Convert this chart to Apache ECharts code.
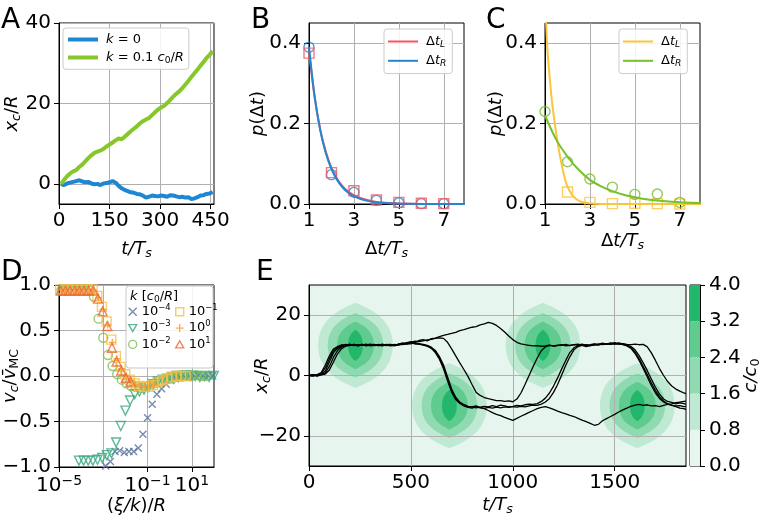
<!DOCTYPE html>
<html><head><meta charset="utf-8">
<script src="https://cdn.jsdelivr.net/npm/echarts@6/dist/echarts.min.js"></script>
<style>html,body{margin:0;padding:0;background:#fff}#c{width:762px;height:521px}</style>
</head><body><div id="c"></div>
<script>
const FONT = 'DejaVu Sans';

// ---------- Panel A ----------
const A_t = [6,15,24,33,42,51,60,69,78,87,96,105,114,123,132,141,150,159,168,177,186,195,204,213,222,231,240,249,258,267,276,285,294,303,312,321,330,339,348,357,366,375,384,393,402,411,420,429,438,447,456];
const A_k0 = [0.0,-0.3,0.1,0.3,0.5,0.7,0.9,0.6,0.4,0.5,0.1,-0.1,0.0,-0.3,0.1,0.2,0.4,0.7,0.3,-0.5,-1.1,-1.5,-1.8,-2.1,-2.2,-2.5,-2.6,-2.9,-3.4,-3.2,-2.9,-3.0,-3.1,-2.9,-3.0,-3.2,-2.8,-2.9,-3.1,-3.3,-3.2,-3.4,-3.3,-3.8,-3.6,-3.3,-2.9,-2.8,-2.5,-2.4,-2.0];
const A_k01 = [0.0,1.0,1.9,2.6,3.1,3.4,4.2,4.8,5.6,6.4,7.1,7.7,8.0,8.3,8.7,9.3,9.8,10.3,10.8,11.3,11.1,11.7,12.4,13.1,13.7,14.3,15.0,15.6,16.0,16.4,17.1,17.8,18.5,19.0,19.4,20.1,20.9,21.7,22.4,23.0,23.8,24.7,25.6,26.6,27.5,28.4,29.4,30.3,31.3,32.1,33.0];
const A_xTicks = [0,150,300,450];
const A_yTicks = [0,20,40];

// ---------- Panel B ----------
const B_ptsX = [1,2,3,4,5,6,7,8];
const B_L_pts = [0.375,0.078,0.033,0.010,0.004,0.002,0.001,0.001];
const B_R_pts = [0.390,0.073,0.029,0.009,0.003,0.001,0.001,0.0005];
const B_curveX = [1,1.25,1.5,1.75,2,2.25,2.5,2.75,3,3.5,4,4.5,5,6,7,8];
const B_L_curve = [0.38,0.265,0.185,0.13,0.09,0.063,0.044,0.031,0.022,0.011,0.005,0.0027,0.0013,0.0003,0.0001,0];
const B_R_curve = [0.39,0.268,0.184,0.126,0.087,0.06,0.041,0.028,0.019,0.009,0.0042,0.002,0.001,0.0002,0,0];
const BC_xTicks = [1,3,5,7];
const BC_yTicks = [0,0.2,0.4];

// ---------- Panel C ----------
const C_ptsX = [1,2,3,4,5,6,7,8];
const C_L_pts = [0.6,0.03,0.004,0.001,0.002,0.001,0.0,0.001];
const C_R_pts = [0.23,0.105,0.062,0.042,0.024,0.025,0.004,0.002];
const C_L_curveX = [1,1.05,1.1,1.2,1.3,1.4,1.5,1.6,1.7,1.8,1.9,2,2.2,2.4,2.6,2.8,3,3.5,4,5,6,7,8];
const C_L_curve = [0.5,0.45,0.39,0.32,0.26,0.215,0.175,0.14,0.11,0.083,0.06,0.043,0.023,0.012,0.006,0.003,0.0015,0.0003,0,0,0,0,0];
const C_R_curveX = [1,1.5,2,2.5,3,3.5,4,4.5,5,5.5,6,6.5,7,7.5,8];
const C_R_curve = [0.22,0.16,0.118,0.085,0.06,0.044,0.032,0.023,0.017,0.012,0.0085,0.006,0.0045,0.003,0.0023];

// ---------- Panel D (x given as log10 exponents of (xi/k)/R) ----------
const D_exp_k1e4 = [-3.1,-2.89,-2.68,-2.47,-2.26,-2.05,-1.84,-1.63,-1.42,-1.21,-1.0,-0.79,-0.58,-0.37,-0.16,0.05,0.26,0.47,0.68,0.89,1.1,1.31,1.52,1.73,1.94];
const D_v_k1e4 = [-1.03,-0.99,-0.94,-0.83,-0.82,-0.84,-0.83,-0.83,-0.79,-0.64,-0.46,-0.31,-0.2,-0.14,-0.09,-0.05,-0.03,-0.02,-0.01,0.0,0.0,0.01,0.0,0.0,0.0];
const D_exp_k1e3 = [-4.1,-3.89,-3.68,-3.47,-3.26,-3.05,-2.84,-2.63,-2.42,-2.21,-2.0,-1.79,-1.58,-1.37,-1.16,-0.95,-0.74,-0.53,-0.32,-0.11,0.1,0.31,0.52,0.73,0.94,1.15,1.36,1.57,1.78,1.99];
const D_v_k1e3 = [-0.93,-0.93,-0.93,-0.93,-0.92,-0.9,-0.87,-0.85,-0.73,-0.55,-0.38,-0.27,-0.2,-0.17,-0.15,-0.12,-0.09,-0.06,-0.04,-0.03,-0.01,0,0,0.01,0,0,-0.01,0,-0.01,0];
const D_exp_k1e2 = [-4.89,-4.68,-4.47,-4.26,-4.05,-3.84,-3.63,-3.42,-3.21,-3.0,-2.79,-2.58,-2.37,-2.16,-1.95,-1.74,-1.53,-1.32,-1.11,-0.9,-0.69,-0.48,-0.27,-0.06,0.15,0.36,0.57,0.78,0.99,1.2,1.41,1.62];
const D_v_k1e2 = [0.94,0.94,0.94,0.94,0.94,0.94,0.94,0.87,0.63,0.42,0.23,0.11,0.02,-0.04,-0.08,-0.11,-0.12,-0.13,-0.12,-0.1,-0.08,-0.06,-0.04,-0.03,-0.02,-0.01,0,0,0,0.01,0,0];
const D_exp_k1e1 = [-4.95,-4.74,-4.53,-4.32,-4.11,-3.9,-3.69,-3.48,-3.27,-3.06,-2.85,-2.64,-2.43,-2.22,-2.01,-1.8,-1.59,-1.38,-1.17,-0.96,-0.75,-0.54,-0.33,-0.12,0.09,0.3,0.51,0.72];
const D_v_k1e1 = [0.95,0.95,0.95,0.95,0.95,0.95,0.95,0.95,0.88,0.76,0.6,0.4,0.22,0.1,0.02,-0.04,-0.08,-0.11,-0.12,-0.12,-0.1,-0.07,-0.05,-0.03,-0.01,0,0,0];
const D_exp_k1e0 = [-4.9,-4.69,-4.48,-4.27,-4.06,-3.85,-3.64,-3.43,-3.22,-3.01,-2.8,-2.59,-2.38,-2.17,-1.96,-1.75,-1.54,-1.33,-1.12,-0.91,-0.7];
const D_v_k1e0 = [0.95,0.95,0.95,0.95,0.95,0.95,0.95,0.94,0.86,0.73,0.56,0.37,0.19,0.08,0.0,-0.05,-0.09,-0.11,-0.12,-0.11,-0.09];
const D_exp_k10 = [-4.92,-4.71,-4.5,-4.29,-4.08,-3.87,-3.66,-3.45,-3.24,-3.03,-2.82,-2.61,-2.4,-2.19,-1.98,-1.77];
const D_v_k10 = [0.94,0.94,0.94,0.94,0.94,0.94,0.94,0.94,0.85,0.71,0.55,0.31,0.16,0.06,-0.02,-0.06];
const D_xTicks = [1.000001e-5,1e-3,1e-1,1e1];
const D_yTicks = [-1,-0.5,0,0.5,1];

// ---------- Panel E ----------
const E_t = [0,20,40,60,80,100,120,140,160,180,200,220,240,260,280,300,320,340,360,380,400,420,440,460,480,500,520,540,560,580,600,620,640,660,680,700,720,740,760,780,800,820,840,860,880,900,920,940,960,980,1000,1020,1040,1060,1080,1100,1120,1140,1160,1180,1200,1220,1240,1260,1280,1300,1320,1340,1360,1380,1400,1420,1440,1460,1480,1500,1520,1540,1560,1580,1600,1620,1640,1660,1680,1700,1720,1740,1760,1780,1800,1820,1840,1850];
const E_traj1 = [0,0.2,-0.1,0.6,2.5,5.5,8.2,9.4,9.8,10.3,9.9,10.2,10.0,10.3,9.8,10.1,10.2,9.9,10.0,10.3,10.1,9.8,10.2,10.5,10.9,11.2,11.0,11.6,11.9,11.5,12.2,12.4,12.9,13.3,13.6,14.0,14.3,14.9,15.2,15.6,16.0,16.2,16.8,17.1,17.6,17.3,16.6,15.6,14.4,13.1,11.9,11.0,10.5,10.2,10.0,9.8,9.9,9.7,9.8,10.1,9.7,9.9,10.2,9.8,10.0,10.2,10.4,10.0,9.6,9.9,10.3,10.2,10.6,10.4,10.8,10.5,10.4,10.6,10.3,10.2,10.4,10.2,10.3,9.5,7.5,5.0,2.3,0.0,-2.0,-3.5,-4.5,-5.2,-5.8,-6.0];
const E_traj2 = [0,-0.2,0.3,1.0,3.5,6.5,8.8,9.6,10.2,9.8,10.1,10.3,9.9,10.1,10.2,9.8,10.0,10.3,10.1,9.9,10.2,10.0,10.3,10.5,10.4,10.8,10.6,10.4,10.3,10.0,9.4,8.3,6.3,3.5,-0.5,-4.5,-7.2,-8.8,-9.6,-10.2,-10.4,-10.1,-10.6,-11.0,-11.6,-12.3,-12.9,-13.3,-13.9,-14.4,-14.9,-14.2,-13.5,-12.9,-12.2,-11.6,-11.0,-10.6,-10.3,-10.7,-11.2,-11.8,-12.3,-12.7,-13.2,-13.6,-14.2,-14.8,-15.3,-15.9,-16.5,-16.2,-15.0,-14.3,-13.6,-12.9,-12.1,-11.4,-10.8,-10.2,-9.8,-9.6,-9.9,-9.7,-10.1,-10.0,-10.3,-9.9,-9.6,-9.4,-9.0,-8.8,-8.6,-8.5];
const E_traj3 = [0,0.3,0.1,0.4,1.5,4.5,7.5,9.0,9.9,10.1,10.4,9.9,10.2,10.0,10.1,10.4,9.9,10.1,10.4,10.0,10.1,10.3,10.1,10.4,10.6,10.5,10.9,10.6,10.2,9.8,9.2,7.9,5.8,2.8,-1.2,-5.0,-7.6,-9.0,-9.9,-10.4,-10.3,-10.7,-10.5,-10.2,-10.4,-10.0,-10.3,-9.8,-10.1,-10.4,-10.2,-9.9,-10.1,-9.7,-9.5,-9.6,-9.3,-8.6,-7.5,-5.8,-3.5,-0.8,2.2,5.0,7.6,9.2,9.9,10.2,9.8,10.0,10.3,10.1,10.5,10.3,10.6,10.4,10.8,10.5,10.1,9.3,7.8,5.6,3.0,0.3,-2.5,-5.0,-7.0,-8.5,-9.4,-9.8,-10.3,-10.8,-11.0,-11.3];
const E_traj4 = [0,-0.1,0.2,0.3,0.9,3.0,6.0,8.3,9.5,10.0,10.2,10.1,9.8,10.3,10.0,10.2,10.3,9.9,10.2,10.1,9.8,10.1,10.4,10.2,10.7,10.9,10.5,10.4,10.1,9.7,9.0,7.6,5.4,2.2,-1.8,-5.5,-8.0,-9.3,-10.1,-10.6,-10.8,-10.4,-10.7,-10.9,-10.6,-10.8,-10.5,-10.7,-10.4,-10.6,-10.3,-10.5,-10.2,-10.4,-10.1,-9.8,-9.9,-9.5,-8.8,-7.6,-5.6,-3.0,0.2,3.4,6.2,8.5,9.6,10.0,10.2,9.9,10.1,10.4,10.2,10.5,10.3,10.6,10.5,10.2,9.8,9.0,7.3,5.0,2.3,-0.5,-3.3,-5.8,-7.6,-8.8,-9.5,-9.9,-10.1,-10.0,-10.3,-10.2];
const E_traj5 = [0,0.1,-0.2,0.2,0.5,1.8,4.5,7.2,8.9,9.7,10.0,10.3,9.9,10.1,10.4,10.0,10.2,10.1,9.8,10.2,10.3,10.0,10.4,10.8,10.6,11.0,11.4,11.2,11.5,11.8,12.0,12.3,12.5,12.3,11.0,8.8,6.5,4.2,2.0,-0.3,-3.0,-5.6,-6.6,-7.3,-7.7,-8.0,-8.3,-8.3,-8.6,-8.4,-8.7,-7.8,-5.8,-3.0,0.0,3.0,5.8,8.2,9.5,10.0,9.8,10.1,10.0,10.3,9.9,10.2,10.1,10.4,10.0,10.2,10.5,10.3,10.7,10.4,10.6,10.9,10.6,10.3,10.0,9.6,8.5,6.6,4.2,1.6,-1.2,-3.9,-6.2,-7.8,-8.6,-8.9,-9.4,-9.1,-9.3,-9.5];
const E_blobT = [228, 689, 1148, 1611];
const E_blobY = [10, -10, 10, -10];
const E_levels = [0, 0.8, 1.6, 2.4, 3.2, 4.0];
const E_levelHalfT = [183, 136, 90, 36];
const E_levelHalfY = [14.1, 10.7, 7.9, 5.2];
const E_levelColors = ['#e6f6ee','#bfe9d2','#90dab1','#5fcb8e','#22b76a'];
const E_xTicks = [0,500,1000,1500];
const E_yTicks = [-20,0,20];

// ---------- helpers ----------
function richSet(fs, subScale) {
  const ss = subScale || 0.7;
  return {
    n: {fontSize: fs, fontFamily: FONT, lineHeight: fs*1.2, color:'#000'},
    i: {fontSize: fs, fontFamily: FONT, fontStyle: 'italic', lineHeight: fs*1.2, color:'#000'},
    is: {fontSize: fs*ss, fontFamily: FONT, fontStyle: 'italic', verticalAlign: 'bottom', lineHeight: fs*0.5, color:'#000'},
    s: {fontSize: fs*ss, fontFamily: FONT, verticalAlign: 'bottom', lineHeight: fs*0.5, color:'#000'},
    sup: {fontSize: fs*ss, fontFamily: FONT, verticalAlign: 'top', lineHeight: fs*0.5, color:'#000'}
  };
}
const minus = s => String(s).replace('-', '\u2212');
const pairs = (xs, ys) => xs.map((x, i) => [x, ys[i]]);
const pow10 = es => es.map(e => Math.pow(10, e));
const NAME_FS = 18;

function mkX(gi, min, max, ticks, fmt, name, gap, extra) {
  return Object.assign({
    gridIndex: gi, type: 'value', min, max,
    axisLine: {show: true, onZero: false, lineStyle: {color: '#000', width: 1}},
    axisTick: {show: true, length: 5, customValues: ticks, lineStyle: {color: '#000', width: 1}},
    axisLabel: {show: true, customValues: ticks, showMinLabel: true, showMaxLabel: true, fontSize: 20, fontFamily: FONT, color: '#000', margin: 7, formatter: fmt, rich: richSet(20)},
    splitLine: {show: true, lineStyle: {color: '#b0b0b0', width: 1}},
    name, nameLocation: 'middle', nameGap: gap, nameMoveOverlap: false,
    nameTextStyle: {fontSize: NAME_FS, fontFamily: FONT, color: '#000', rich: richSet(NAME_FS)}
  }, extra || {});
}
function mkY(gi, min, max, ticks, fmt, name, gap, extra) {
  return Object.assign({
    gridIndex: gi, type: 'value', min, max,
    axisLine: {show: true, onZero: false, lineStyle: {color: '#000', width: 1}},
    axisTick: {show: true, length: 5, customValues: ticks, lineStyle: {color: '#000', width: 1}},
    axisLabel: {show: true, customValues: ticks, showMinLabel: true, showMaxLabel: true, fontSize: 20, fontFamily: FONT, color: '#000', margin: 8, formatter: fmt},
    splitLine: {show: true, lineStyle: {color: '#b0b0b0', width: 1}},
    name, nameLocation: 'middle', nameGap: gap, nameRotate: 90, nameMoveOverlap: false,
    nameTextStyle: {fontSize: NAME_FS, fontFamily: FONT, color: '#000', rich: richSet(NAME_FS)}
  }, extra || {});
}
const gridBase = {show: true, borderColor: '#000', borderWidth: 1, backgroundColor: '#fff', containLabel: false, outerBoundsMode: 'none'};

const fInt = v => minus(Math.round(v));
const f1 = v => minus(Number(v).toFixed(1));
const fPlain = v => String(v);
const fLog = v => { const e = Math.round(Math.log10(v)); return '{n|10}{sup|' + minus(e) + '}'; };

const hollow = c => ({color: 'rgba(0,0,0,0)', borderColor: c, borderWidth: 1.4});
const SYM_X = 'path://M0,0L10,10M10,0L0,10';
const SYM_PLUS = 'path://M5,0L5,10M0,5L10,5';
const SYM_DOWN = 'path://M0,0L10,0L5,8.66Z';
const SYM_UP = 'path://M5,0L10,8.66L0,8.66Z';

const COL = {
  aBlue: '#1e87d4', aGreen: '#86c72a', bRed: '#f3575e', bBlue: '#2585cf',
  cYellow: '#fbc43d', cGreen: '#76c12c',
  d4: '#56709a', d3: '#3ba67f', d2: '#7dbd55', d1: '#f6bf45', d0: '#f39a2f', d10: '#f06632'
};

const legendBox = {backgroundColor: 'rgba(255,255,255,0.85)', borderColor: '#cccccc', borderWidth: 1, borderRadius: 3, selectedMode: false, orient: 'vertical'};

const LEG = {
  A0: '{i|k}{n| = 0}',
  A1: '{i|k}{n| = 0.1 }{i|c}{s|0}{n|/}{i|R}',
  BL: '{n|Δ}{i|t}{is|L}', BR: '{n|Δ}{i|t}{is|R}',
  CL: '{n|Δ}{i|t}{is|L}', CR: '{n|Δ}{i|t}{is|R}',
  D4: '{n|10}{sup|−4}', D3: '{n|10}{sup|−3}', D2: '{n|10}{sup|−2}',
  D1: '{n|10}{sup|−1}', D0: '{n|10}{sup|0}', D10: '{n|10}{sup|1}'
};

// blob polygons for panel E
const blobData = [];
for (let l = 0; l < E_levelHalfT.length; l++) for (let b = 0; b < E_blobT.length; b++) blobData.push([b, l]);

function renderBlob(params, api) {
  const b = api.value(0), l = api.value(1);
  const a = E_levelHalfT[l], h = E_levelHalfY[l];
  const pts = [];
  const N = 40;
  for (let i = 0; i <= N; i++) {
    const s = -1 + 2 * i / N;
    const dt = a * (1 - s * s) * (1 + 0.45 * s * s);
    pts.push(api.coord([E_blobT[b] + dt, E_blobY[b] + h * s]));
  }
  for (let i = N; i >= 0; i--) {
    const s = -1 + 2 * i / N;
    const dt = a * (1 - s * s) * (1 + 0.45 * s * s);
    pts.push(api.coord([E_blobT[b] - dt, E_blobY[b] + h * s]));
  }
  return {type: 'polygon', shape: {points: pts}, style: {fill: E_levelColors[l + 1]}};
}

const cbSeries = [];
for (let k = 0; k < E_levels.length - 1; k++) {
  cbSeries.push({type: 'bar', xAxisIndex: 5, yAxisIndex: 5, stack: 'cb', barWidth: '100%', silent: true,
    data: [E_levels[k + 1] - E_levels[k]], itemStyle: {color: E_levelColors[k]}});
}

const chart = echarts.init(document.getElementById('c'), null, {renderer: 'canvas'});
const option = {
  animation: false,
  textStyle: {fontFamily: FONT},
  grid: [
    Object.assign({left: 59, top: 23, width: 155, height: 181}, gridBase),
    Object.assign({left: 309, top: 23, width: 155, height: 181}, gridBase),
    Object.assign({left: 545, top: 23, width: 155, height: 181}, gridBase),
    Object.assign({left: 59, top: 285, width: 155, height: 182}, gridBase),
    Object.assign({left: 309, top: 285, width: 377, height: 181}, gridBase, {backgroundColor: E_levelColors[0]}),
    Object.assign({left: 690, top: 285, width: 10, height: 181}, gridBase)
  ],
  xAxis: [
    mkX(0, 0, 460, A_xTicks, fInt, '{i|t/T}{is|s}', 35),
    mkX(1, 1, 7.9, BC_xTicks, fPlain, '{n|Δ}{i|t/T}{is|s}', 35),
    mkX(2, 1, 7.9, BC_xTicks, fPlain, '{n|Δ}{i|t/T}{is|s}', 27),
    mkX(3, 1e-5, 1e2, D_xTicks, fLog, '{n|(}{i|ξ/k}{n|)/}{i|R}', 29, {type: 'log', logBase: 10}),
    mkX(4, 0, 1850, E_xTicks, fInt, '{i|t/T}{is|s}', 29, {z: 3}),
    {gridIndex: 5, type: 'category', data: ['cb'], show: false}
  ],
  yAxis: [
    mkY(0, -5, 40, A_yTicks, fInt, '{i|x}{is|c}{n|/}{i|R}', 36),
    mkY(1, 0, 0.45, BC_yTicks, f1, '{i|p}{n|(Δ}{i|t}{n|)}', 40),
    mkY(2, 0, 0.45, BC_yTicks, f1, '{i|p}{n|(Δ}{i|t}{n|)}', 38),
    mkY(3, -1, 1, D_yTicks, f1, '{i|v}{is|c}{n|/}{i|v\u0304}{s|MC}', 38),
    mkY(4, -30, 30, E_yTicks, fInt, '{i|x}{is|c}{n|/}{i|R}', 36, {z: 3}),
    {gridIndex: 5, type: 'value', min: 0, max: 4, interval: 0.8, position: 'right',
     axisLine: {show: true, lineStyle: {color: '#000'}},
     axisTick: {show: true, length: 5, lineStyle: {color: '#000'}},
     axisLabel: {fontSize: 20, fontFamily: FONT, color: '#000', margin: 9, formatter: v => Number(v).toFixed(1)},
     splitLine: {show: false},
     name: '{i|c/c}{s|0}', nameLocation: 'middle', nameGap: 41, nameRotate: 90, nameMoveOverlap: false,
     nameTextStyle: {fontSize: NAME_FS, fontFamily: FONT, color: '#000', rich: richSet(NAME_FS)}}
  ],
  legend: [
    Object.assign({left: 63, top: 28, padding: [5, 5, 4, 5], itemGap: 5, icon: 'rect', itemWidth: 30, itemHeight: 4,
      data: ['A0', 'A1'], formatter: n => LEG[n], textStyle: {fontSize: 13, padding: [0, 0, 0, 3], rich: richSet(13)}}, legendBox),
    Object.assign({left: 384, top: 29, padding: [6, 6, 5, 4], itemGap: 5, icon: 'rect', itemWidth: 30, itemHeight: 2,
      data: ['BL', 'BR'], formatter: n => LEG[n], textStyle: {fontSize: 13, padding: [0, 0, 0, 3], rich: richSet(13)}}, legendBox),
    Object.assign({left: 619, top: 29, padding: [6, 6, 5, 4], itemGap: 5, icon: 'rect', itemWidth: 30, itemHeight: 2,
      data: ['CL', 'CR'], formatter: n => LEG[n], textStyle: {fontSize: 13, padding: [0, 0, 0, 3], rich: richSet(13)}}, legendBox),
    {left: 128, top: 304, orient: 'vertical', selectedMode: false, itemGap: 2, itemWidth: 8, itemHeight: 8, padding: 0, z: 60,
      data: [{name: 'D4', icon: SYM_X, itemStyle: hollow(COL.d4)}, {name: 'D3', icon: SYM_DOWN, itemStyle: hollow(COL.d3)}, {name: 'D2', icon: 'circle', itemStyle: hollow(COL.d2)}],
      formatter: n => LEG[n], textStyle: {fontSize: 13, rich: richSet(13, 0.65)}},
    {left: 175, top: 304, orient: 'vertical', selectedMode: false, itemGap: 2, itemWidth: 8, itemHeight: 8, padding: 0, z: 60,
      data: [{name: 'D1', icon: 'rect', itemStyle: hollow(COL.d1)}, {name: 'D0', icon: SYM_PLUS, itemStyle: hollow(COL.d0)}, {name: 'D10', icon: SYM_UP, itemStyle: hollow(COL.d10)}],
      formatter: n => LEG[n], textStyle: {fontSize: 13, rich: richSet(13, 0.65)}}
  ],
  graphic: [
    {type: 'rect', x: 126, y: 286, z: 50, zlevel: 0, shape: {x: 0, y: 0, width: 87, height: 82, r: 3}, style: {fill: 'rgba(255,255,255,0.85)', stroke: '#c8c8c8', lineWidth: 1}},
    {type: 'text', x: 130, y: 289, z: 51, style: {text: '{i|k}{n| [}{i|c}{s|0}{n|/}{i|R}{n|]}', rich: richSet(13)}},
    {type: 'text', x: 1, y: 20.5, z: 60, style: {text: 'A', font: '28px "DejaVu Sans"', fill: '#000', verticalAlign: 'middle'}},
    {type: 'text', x: 251, y: 20.5, z: 60, style: {text: 'B', font: '28px "DejaVu Sans"', fill: '#000', verticalAlign: 'middle'}},
    {type: 'text', x: 486, y: 20.5, z: 60, style: {text: 'C', font: '28px "DejaVu Sans"', fill: '#000', verticalAlign: 'middle'}},
    {type: 'text', x: 1, y: 273, z: 60, style: {text: 'D', font: '28px "DejaVu Sans"', fill: '#000', verticalAlign: 'middle'}},
    {type: 'text', x: 256, y: 273, z: 60, style: {text: 'E', font: '28px "DejaVu Sans"', fill: '#000', verticalAlign: 'middle'}}
  ],
  series: [
    // A
    {name: 'A0', type: 'line', xAxisIndex: 0, yAxisIndex: 0, data: pairs(A_t, A_k0), showSymbol: false, lineStyle: {width: 4, color: COL.aBlue}, itemStyle: {color: COL.aBlue}},
    {name: 'A1', type: 'line', xAxisIndex: 0, yAxisIndex: 0, data: pairs(A_t, A_k01), showSymbol: false, lineStyle: {width: 4, color: COL.aGreen}, itemStyle: {color: COL.aGreen}},
    // B
    {name: 'BL', type: 'line', xAxisIndex: 1, yAxisIndex: 1, data: pairs(B_curveX, B_L_curve), smooth: 0.3, showSymbol: false, lineStyle: {width: 2, color: COL.bRed}, itemStyle: {color: COL.bRed}},
    {name: 'BR', type: 'line', xAxisIndex: 1, yAxisIndex: 1, data: pairs(B_curveX, B_R_curve), smooth: 0.3, showSymbol: false, lineStyle: {width: 2, color: COL.bBlue}, itemStyle: {color: COL.bBlue}},
    {name: 'BRp', type: 'scatter', xAxisIndex: 1, yAxisIndex: 1, data: pairs(B_ptsX, B_R_pts), symbol: 'circle', symbolSize: 10, itemStyle: hollow(COL.bBlue)},
    {name: 'BLp', type: 'scatter', xAxisIndex: 1, yAxisIndex: 1, data: pairs(B_ptsX, B_L_pts), symbol: 'rect', symbolSize: 10, itemStyle: hollow(COL.bRed)},
    // C
    {name: 'CL', type: 'line', xAxisIndex: 2, yAxisIndex: 2, data: pairs(C_L_curveX, C_L_curve), smooth: 0.3, showSymbol: false, lineStyle: {width: 2, color: COL.cYellow}, itemStyle: {color: COL.cYellow}},
    {name: 'CR', type: 'line', xAxisIndex: 2, yAxisIndex: 2, data: pairs(C_R_curveX, C_R_curve), smooth: 0.3, showSymbol: false, lineStyle: {width: 2, color: COL.cGreen}, itemStyle: {color: COL.cGreen}},
    {name: 'CLp', type: 'scatter', xAxisIndex: 2, yAxisIndex: 2, data: pairs(C_ptsX, C_L_pts), symbol: 'rect', symbolSize: 10, itemStyle: hollow(COL.cYellow)},
    {name: 'CRp', type: 'scatter', xAxisIndex: 2, yAxisIndex: 2, data: pairs(C_ptsX, C_R_pts), symbol: 'circle', symbolSize: 10, itemStyle: hollow(COL.cGreen)},
    // D
    {name: 'D4', type: 'scatter', xAxisIndex: 3, yAxisIndex: 3, data: pairs(pow10(D_exp_k1e4), D_v_k1e4), symbol: SYM_X, symbolSize: 7, itemStyle: hollow(COL.d4)},
    {name: 'D3', type: 'scatter', xAxisIndex: 3, yAxisIndex: 3, data: pairs(pow10(D_exp_k1e3), D_v_k1e3), symbol: SYM_DOWN, symbolSize: 9, itemStyle: hollow(COL.d3)},
    {name: 'D2', type: 'scatter', xAxisIndex: 3, yAxisIndex: 3, data: pairs(pow10(D_exp_k1e2), D_v_k1e2), symbol: 'circle', symbolSize: 9, itemStyle: hollow(COL.d2)},
    {name: 'D1', type: 'scatter', xAxisIndex: 3, yAxisIndex: 3, data: pairs(pow10(D_exp_k1e1), D_v_k1e1), symbol: 'rect', symbolSize: 9, itemStyle: hollow(COL.d1)},
    {name: 'D0', type: 'scatter', xAxisIndex: 3, yAxisIndex: 3, data: pairs(pow10(D_exp_k1e0), D_v_k1e0), symbol: SYM_PLUS, symbolSize: 7, itemStyle: hollow(COL.d0)},
    {name: 'D10', type: 'scatter', xAxisIndex: 3, yAxisIndex: 3, data: pairs(pow10(D_exp_k10), D_v_k10), symbol: SYM_UP, symbolSize: 9, itemStyle: hollow(COL.d10)},
    // E
    {name: 'Eblobs', type: 'custom', xAxisIndex: 4, yAxisIndex: 4, z: 1, silent: true, data: blobData, renderItem: renderBlob, clip: true},
    {name: 'E1', type: 'line', xAxisIndex: 4, yAxisIndex: 4, z: 5, data: pairs(E_t, E_traj1), showSymbol: false, lineStyle: {width: 1.3, color: '#000'}},
    {name: 'E2', type: 'line', xAxisIndex: 4, yAxisIndex: 4, z: 5, data: pairs(E_t, E_traj2), showSymbol: false, lineStyle: {width: 1.3, color: '#000'}},
    {name: 'E3', type: 'line', xAxisIndex: 4, yAxisIndex: 4, z: 5, data: pairs(E_t, E_traj3), showSymbol: false, lineStyle: {width: 1.3, color: '#000'}},
    {name: 'E4', type: 'line', xAxisIndex: 4, yAxisIndex: 4, z: 5, data: pairs(E_t, E_traj4), showSymbol: false, lineStyle: {width: 1.3, color: '#000'}},
    {name: 'E5', type: 'line', xAxisIndex: 4, yAxisIndex: 4, z: 5, data: pairs(E_t, E_traj5), showSymbol: false, lineStyle: {width: 1.3, color: '#000'}}
  ].concat(cbSeries)
};
chart.setOption(option);
</script></body></html>
